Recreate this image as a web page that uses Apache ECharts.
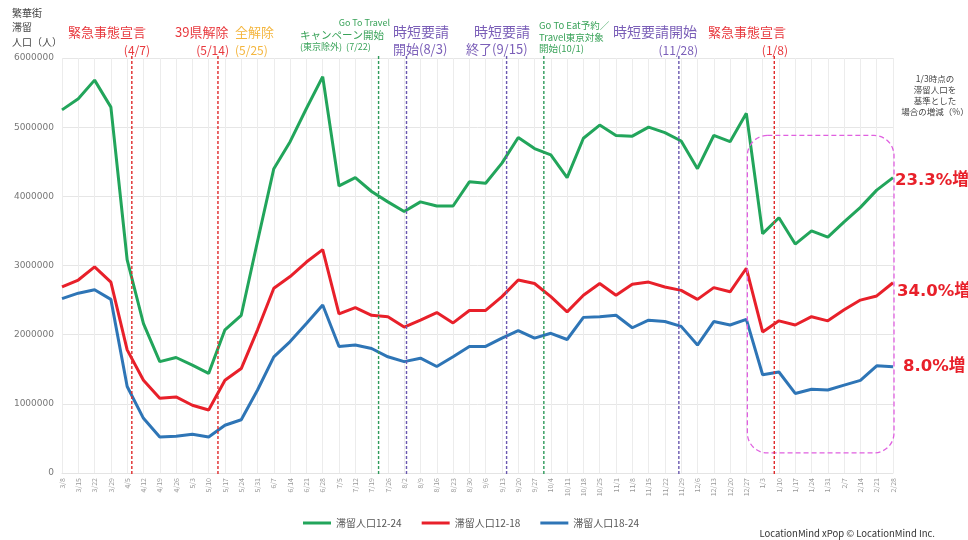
<!DOCTYPE html>
<html>
<head>
<meta charset="utf-8">
<title>繁華街 滞留人口</title>
<script src="https://cdn.jsdelivr.net/npm/echarts/dist/echarts.min.js"></script>
<style>
  html, body { margin: 0; padding: 0; background: #fff; }
  #main { width: 968px; height: 540px; }
</style>
</head>
<body>
<div id="main"></div>
<script>
// weekly sampling dates (Sundays, 2020/3/8 - 2021/2/28)
var weeks = ['3/8','3/15','3/22','3/29','4/5','4/12','4/19','4/26','5/3','5/10','5/17','5/24','5/31',
  '6/7','6/14','6/21','6/28','7/5','7/12','7/19','7/26','8/2','8/9','8/16','8/23','8/30','9/6','9/13',
  '9/20','9/27','10/4','10/11','10/18','10/25','11/1','11/8','11/15','11/22','11/29','12/6','12/13',
  '12/20','12/27','1/3','1/10','1/17','1/24','1/31','2/7','2/14','2/21','2/28'];
var firstWeek = '2020-03-08';

var pop1224 = [5250000,5410000,5680000,5290000,3080000,2160000,1610000,1670000,1560000,1440000,2070000,2280000,3350000,
  4400000,4790000,5270000,5730000,4150000,4270000,4070000,3920000,3780000,3920000,3860000,3860000,4210000,4190000,
  4480000,4850000,4690000,4600000,4270000,4840000,5030000,4880000,4870000,5000000,4920000,4800000,4400000,4880000,
  4790000,5200000,3460000,3690000,3310000,3500000,3410000,3630000,3840000,4090000,4270000];
var pop1218 = [2690000,2790000,2980000,2760000,1780000,1340000,1080000,1100000,980000,910000,1340000,1510000,2070000,
  2670000,2840000,3050000,3230000,2300000,2390000,2280000,2260000,2110000,2210000,2320000,2170000,2350000,2350000,
  2550000,2790000,2740000,2550000,2330000,2570000,2740000,2570000,2730000,2760000,2690000,2640000,2510000,2680000,
  2620000,2960000,2040000,2200000,2140000,2260000,2200000,2360000,2500000,2560000,2750000];
var pop1824 = [2520000,2600000,2650000,2510000,1250000,790000,520000,530000,560000,520000,690000,770000,1200000,
  1680000,1900000,2160000,2430000,1830000,1850000,1800000,1680000,1610000,1660000,1540000,1680000,1830000,1830000,
  1950000,2060000,1950000,2020000,1930000,2250000,2260000,2280000,2100000,2210000,2190000,2120000,1850000,2190000,
  2140000,2220000,1420000,1460000,1150000,1210000,1200000,1270000,1340000,1550000,1535000];

var seriesNames = ['滞留人口12-24', '滞留人口12-18', '滞留人口18-24'];
var changeLabels = ['23.3%増', '34.0%増', '8.0%増'];

var eventDates = ['2020-04-07','2020-05-14','2020-07-22','2020-08-03','2020-09-15','2020-10-01','2020-11-28','2021-01-08'];
var eventColors = ['#e02a2a','#e02a2a','#2e9a5a','#6a58b0','#6a58b0','#2e9a5a','#6a58b0','#e02a2a'];

var RED = '#e8383d', GREEN = '#3aa35a', PURPLE = '#7b5fb8', ORANGE = '#f4b63f';
var JP = '"Noto Sans CJK JP", sans-serif';

var chart = echarts.init(document.getElementById('main'));

function lineSeries(name, data, color, idx, dy) {
  return {
    name: name,
    type: 'line',
    data: data,
    symbol: 'none',
    smooth: false,
    lineStyle: { color: color, width: 3 },
    itemStyle: { color: color },
    endLabel: {
      show: true,
      formatter: function () { return changeLabels[idx]; },
      color: '#e8202a',
      fontSize: 16.5,
      fontWeight: 'bold',
      fontFamily: '"DejaVu Sans", "Noto Sans CJK JP"',
      distance: 2,
      offset: [dy[0], dy[1]]
    }
  };
}

function txt(id, text, x, y, color, size, align) {
  return {
    type: 'text', id: id, silent: true, z: 20,
    style: {
      text: text, x: x, y: y, fill: color,
      fontSize: size, fontFamily: JP,
      textAlign: align || 'left', align: align || 'left',
      textVerticalAlign: 'middle', verticalAlign: 'middle'
    }
  };
}

var notes = [
  txt('t1', '繁華街', 12, 13, '#444', 10),
  txt('t2', '滞留', 12, 27, '#444', 10),
  txt('t3', '人口（人）', 12, 42, '#444', 10),
  txt('a1', '緊急事態宣言', 68, 32, RED, 13),
  txt('a1b', '(4/7)', 150, 50, RED, 12, 'right'),
  txt('a2', '39県解除', 175, 32, RED, 13),
  txt('a2b', '(5/14)', 229, 50, RED, 12, 'right'),
  txt('a3', '全解除', 235, 32, ORANGE, 13),
  txt('a3b', '(5/25)', 235, 50, ORANGE, 12),
  txt('a4', 'Go To Travel', 390, 23, GREEN, 9, 'right'),
  txt('a4b', 'キャンペーン開始', 300, 35, GREEN, 10.5),
  txt('a4c', '(東京除外)  (7/22)', 300, 47, GREEN, 9),
  txt('a5', '時短要請', 393, 32, PURPLE, 14),
  txt('a5b', '開始(8/3)', 393, 49, PURPLE, 13),
  txt('a6', '時短要請', 474, 32, PURPLE, 14),
  txt('a6b', '終了(9/15)', 466, 49, PURPLE, 13),
  txt('a7', 'Go To Eat予約／', 539, 25, GREEN, 9.5),
  txt('a7b', 'Travel東京対象', 539, 37, GREEN, 9.5),
  txt('a7c', '開始(10/1)', 539, 48, GREEN, 9.5),
  txt('a8', '時短要請開始', 613, 32, PURPLE, 14),
  txt('a8b', '(11/28)', 698, 50, PURPLE, 12, 'right'),
  txt('a9', '緊急事態宣言', 708, 32, RED, 13),
  txt('a9b', '(1/8)', 788, 50, RED, 12, 'right'),
  txt('n1', '1/3時点の', 935, 79, '#444', 8.5, 'center'),
  txt('n2', '滞留人口を', 935, 90, '#444', 8.5, 'center'),
  txt('n3', '基準とした', 935, 101, '#444', 8.5, 'center'),
  txt('n4', '場合の増減（%）', 935, 112, '#444', 8.5, 'center'),
  txt('c1', 'LocationMind xPop © LocationMind Inc.', 935, 533, '#333', 9.5, 'right')
];

var option = {
  animation: false,
  backgroundColor: '#fff',
  textStyle: { fontFamily: JP },
  grid: { left: 62, right: 75, top: 58, bottom: 67, containLabel: false },
  legend: {
    data: seriesNames,
    left: 298, top: 513,
    icon: 'rect', itemWidth: 28, itemHeight: 3, itemGap: 20,
    textStyle: { fontSize: 10, color: '#555', fontFamily: JP }
  },
  xAxis: {
    type: 'category',
    data: weeks,
    boundaryGap: false,
    axisLine: { show: true, lineStyle: { color: '#e4e4e4' } },
    axisTick: { show: false },
    axisLabel: { interval: 0, rotate: 90, fontSize: 7, color: '#999', margin: 5 },
    splitLine: { show: true, interval: 0, lineStyle: { color: '#ececec', width: 1 } }
  },
  yAxis: {
    type: 'value',
    min: 0, max: 6000000, interval: 1000000,
    axisLine: { show: false },
    axisTick: { show: false },
    axisLabel: {
      fontSize: 9, color: '#777', margin: 8, fontFamily: '"DejaVu Sans"',
      formatter: function (v) { return String(v); }
    },
    splitLine: { lineStyle: { color: '#e6e6e6' } }
  },
  series: [
    lineSeries(seriesNames[0], pop1224, '#22a55b', 0, [0, 3]),
    lineSeries(seriesNames[1], pop1218, '#e8202a', 1, [2, 9]),
    lineSeries(seriesNames[2], pop1824, '#2e75b6', 2, [8, 0])
  ],
  graphic: notes
};

chart.setOption(option);

// place event lines and the highlight box through the axes
var dayMs = 24 * 3600 * 1000;
function weekPos(dateStr) {
  return (new Date(dateStr) - new Date(firstWeek)) / dayMs / 7;
}
function xAt(f) {
  var i = Math.floor(f);
  var a = chart.convertToPixel({ xAxisIndex: 0 }, weeks[i]);
  var b = chart.convertToPixel({ xAxisIndex: 0 }, weeks[i + 1]);
  return a + (b - a) * (f - i);
}
var extra = [];
var yTop = chart.convertToPixel({ yAxisIndex: 0 }, 6000000);
var yBot = chart.convertToPixel({ yAxisIndex: 0 }, 0);
for (var k = 0; k < eventDates.length; k++) {
  var px = xAt(weekPos(eventDates[k]));
  extra.push({
    type: 'line', id: 'ev' + k, silent: true, z: 15,
    shape: { x1: px, y1: yTop - 2, x2: px, y2: yBot + 3 },
    style: { stroke: eventColors[k], lineWidth: 1.4, lineDash: [3, 2] }
  });
}
var bx1 = chart.convertToPixel({ xAxisIndex: 0 }, weeks[42]);
var bx2 = chart.convertToPixel({ xAxisIndex: 0 }, weeks[51]);
var by1 = chart.convertToPixel({ yAxisIndex: 0 }, 4880000);
var by2 = chart.convertToPixel({ yAxisIndex: 0 }, 290000);
extra.push({
  type: 'rect', id: 'box', silent: true, z: 14,
  shape: { x: bx1 + 1, y: by1, width: bx2 - bx1, height: by2 - by1, r: 20 },
  style: { fill: 'rgba(0,0,0,0)', stroke: '#e060e0', lineWidth: 1.3, lineDash: [5, 3] }
});
chart.setOption({ graphic: extra });
</script>
</body>
</html>
